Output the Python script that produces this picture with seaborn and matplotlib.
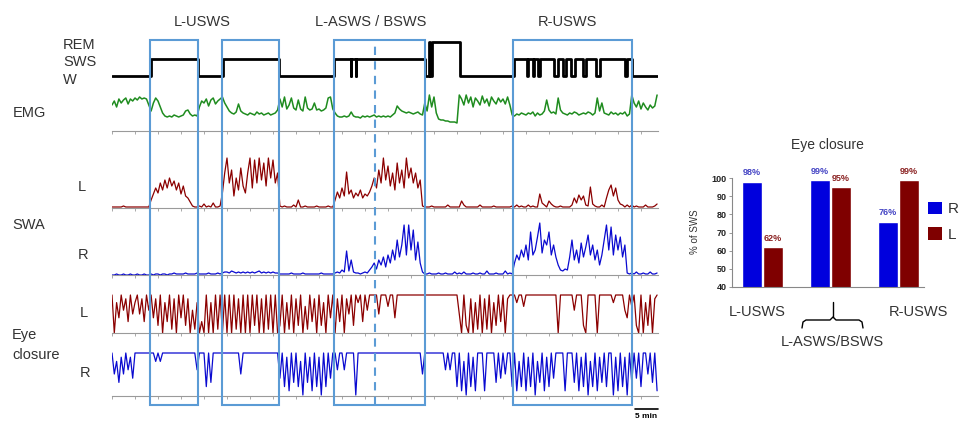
import numpy as np
import pandas as pd
import matplotlib
matplotlib.use("Agg")
import matplotlib.pyplot as plt
from matplotlib.patches import Rectangle, Patch
import seaborn as sns

# ---------------- data ----------------
# hypnogram: state change times (min) and states (0=W, 1=SWS, 2=REM)
hyp_t = [0, 8.5, 18.7, 24.1, 36.3, 48.3, 51.9, 52.05, 53.0, 53.15, 68.0, 68.9, 69.05, 69.5, 75.7,
         87.4, 90.2, 90.5, 91.5, 91.8, 92.7, 93.0, 96.1, 97.0, 98.0, 98.7, 99.8, 100.7,
         102.4, 103.0, 105.2, 106.1, 111.5, 112.0, 113.0, 118.7]
hyp_s = [0, 1, 0, 1, 0, 1, 0, 1, 0, 1, 0, 2, 0, 2, 0,
         1, 0, 1, 0, 1, 0, 1, 0, 1, 0, 1, 0, 1,
         0, 1, 0, 1, 0, 1, 0, 0]

# traces sampled every 0.5 min
emg = [20, 24, 18, 26, 22, 25, 27, 21, 26, 24,
       27, 25, 28, 26, 27, 26, 20, 14, 22, 27,
       24, 18, 12, 9, 8, 9, 8, 10, 9, 8,
       9, 10, 14, 15, 11, 9, 10, 9, 18, 24,
       22, 26, 19, 25, 27, 21, 24, 26, 28, 22,
       18, 14, 12, 11, 13, 21, 14, 12, 11, 10,
       12, 11, 10, 13, 11, 12, 10, 11, 12, 10,
       11, 12, 15, 26, 18, 28, 16, 20, 27, 17,
       15, 25, 16, 14, 28, 17, 15, 16, 22, 15,
       16, 14, 15, 17, 27, 28, 16, 12, 9, 8,
       8, 9, 8, 9, 13, 9, 8, 8, 7, 9,
       8, 9, 8, 9, 10, 8, 9, 8, 9, 8,
       9, 8, 10, 12, 19, 16, 14, 13, 12, 13,
       12, 11, 12, 13, 11, 10, 22, 14, 30, 18,
       28, 12, 6, 5, 5, 4, 4, 3, 3, 3,
       2, 30, 26, 20, 30, 22, 28, 18, 27, 24,
       20, 29, 22, 26, 19, 28, 24, 21, 27, 23,
       26, 21, 28, 20, 10, 9, 11, 10, 12, 11,
       10, 12, 11, 13, 9, 12, 10, 11, 14, 25,
       15, 12, 13, 11, 27, 15, 12, 11, 10, 12,
       11, 13, 12, 10, 11, 12, 11, 13, 12, 10,
       12, 27, 14, 22, 12, 11, 10, 13, 11, 12,
       10, 12, 11, 13, 9, 11, 30, 22, 18, 24,
       16, 22, 18, 15, 20, 17, 19, 30]

swa_l = [1, 1, 1, 1, 1, 2, 1, 1, 1, 1,
         1, 1, 1, 1, 1, 1, 1, 8, 14, 20,
         15, 25, 18, 28, 20, 30, 22, 27, 18, 25,
         14, 22, 12, 10, 6, 2, 1, 1, 2, 1,
         4, 1, 2, 1, 5, 1, 1, 2, 15, 35,
         50, 25, 38, 12, 30, 18, 40, 22, 15, 35,
         50, 20, 48, 25, 50, 28, 45, 22, 50, 30,
         48, 25, 35, 2, 1, 2, 1, 1, 1, 3,
         1, 8, 1, 1, 2, 1, 1, 1, 1, 2,
         1, 1, 1, 1, 2, 1, 1, 8, 16, 10,
         20, 12, 36, 14, 18, 10, 15, 12, 18, 10,
         14, 12, 16, 22, 30, 20, 38, 25, 50, 28,
         42, 22, 35, 18, 45, 25, 38, 20, 50, 30,
         40, 25, 35, 20, 28, 2, 1, 1, 1, 2,
         1, 1, 1, 1, 1, 1, 3, 1, 1, 1,
         1, 1, 7, 3, 1, 1, 1, 1, 1, 1,
         3, 1, 1, 1, 1, 1, 2, 1, 1, 1,
         1, 1, 1, 1, 2, 1, 3, 1, 2, 1,
         1, 3, 1, 2, 1, 1, 14, 5, 3, 1,
         7, 4, 2, 1, 1, 2, 1, 1, 1, 1,
         3, 10, 5, 13, 8, 12, 3, 2, 21, 4,
         2, 1, 1, 3, 1, 10, 18, 23, 12, 20,
         8, 4, 3, 1, 3, 1, 3, 1, 2, 1,
         1, 1, 3, 1, 1, 1, 2, 4]

swa_r = [0, 0, 1, 0, 0, 1, 0, 0, 1, 0,
         0, 1, 0, 0, 1, 0, 0, 1, 0, 1,
         1, 0, 1, 1, 0, 1, 1, 2, 1, 1,
         1, 1, 2, 1, 1, 1, 1, 2, 1, 1,
         1, 1, 2, 1, 1, 1, 2, 1, 2, 3,
         3, 2, 4, 3, 2, 3, 2, 3, 2, 3,
         2, 3, 2, 3, 4, 2, 3, 2, 3, 2,
         3, 2, 2, 1, 1, 1, 1, 1, 2, 1,
         1, 1, 1, 2, 1, 1, 1, 1, 1, 1,
         1, 2, 1, 1, 1, 1, 1, 2, 3, 2,
         5, 3, 24, 4, 15, 3, 2, 2, 1, 2,
         3, 2, 5, 8, 12, 6, 15, 10, 18, 8,
         20, 12, 25, 15, 35, 18, 30, 50, 20, 50,
         25, 45, 15, 33, 12, 3, 1, 1, 2, 1,
         1, 1, 2, 1, 1, 2, 1, 1, 1, 3,
         1, 2, 1, 3, 1, 1, 1, 2, 1, 1,
         2, 1, 1, 4, 1, 1, 1, 2, 1, 1,
         1, 4, 1, 2, 1, 12, 20, 15, 25, 18,
         30, 15, 43, 20, 25, 38, 52, 22, 35, 30,
         43, 20, 30, 18, 10, 5, 4, 6, 5, 18,
         35, 15, 25, 12, 32, 18, 28, 40, 20, 30,
         15, 25, 10, 20, 35, 50, 25, 48, 20, 40,
         25, 38, 18, 30, 2, 1, 2, 1, 3, 1,
         1, 2, 1, 1, 3, 1, 1, 2]

eye_l = [10, 0, 8, 4, 10, 6, 9, 3, 10, 5,
         8, 10, 5, 9, 3, 10, 6, 10, 4, 9,
         2, 10, 0, 8, 3, 10, 1, 9, 0, 10,
         4, 10, 2, 9, 0, 6, 1, 8, 0, 3,
         0, 10, 0, 8, 0, 10, 1, 10, 0, 10,
         0, 10, 0, 10, 1, 9, 0, 10, 0, 10,
         0, 10, 2, 10, 0, 9, 0, 10, 1, 10,
         0, 10, 0, 2, 10, 0, 8, 1, 10, 0,
         9, 2, 10, 0, 7, 1, 10, 3, 9, 0,
         10, 2, 8, 0, 10, 4, 10, 0, 9, 3,
         10, 0, 9, 5, 10, 2, 10, 8, 10, 3,
         10, 6, 10, 10, 10, 10, 5, 10, 10, 10,
         7, 10, 10, 4, 10, 10, 10, 10, 10, 10,
         10, 10, 10, 10, 10, 10, 10, 10, 10, 10,
         10, 10, 10, 10, 10, 10, 10, 10, 10, 10,
         10, 5, 0, 10, 2, 0, 9, 0, 8, 1,
         10, 0, 9, 1, 10, 0, 8, 2, 10, 3,
         10, 0, 9, 10, 10, 10, 8, 10, 10, 7,
         10, 10, 10, 10, 10, 10, 10, 10, 10, 10,
         10, 10, 10, 10, 0, 10, 10, 10, 10, 10,
         10, 6, 10, 10, 10, 2, 0, 10, 10, 10,
         10, 0, 10, 10, 10, 10, 10, 10, 8, 10,
         10, 10, 10, 6, 4, 10, 7, 10, 2, 0,
         10, 0, 8, 2, 10, 0, 9, 10]

eye_r = [10, 5, 8, 3, 9, 5, 10, 6, 9, 4,
         10, 10, 10, 10, 10, 10, 10, 10, 10, 8,
         10, 8, 10, 10, 10, 10, 10, 10, 10, 10,
         10, 10, 10, 10, 10, 10, 10, 6, 10, 10,
         10, 2, 10, 3, 10, 10, 10, 10, 10, 10,
         10, 10, 10, 10, 10, 10, 5, 10, 10, 10,
         10, 10, 10, 10, 10, 10, 10, 10, 10, 10,
         10, 10, 10, 4, 10, 2, 9, 1, 10, 3,
         10, 2, 8, 0, 10, 3, 9, 1, 10, 2,
         9, 0, 10, 2, 10, 4, 10, 10, 6, 10,
         10, 6, 10, 10, 10, 10, 0, 10, 10, 10,
         10, 10, 10, 10, 10, 10, 10, 10, 10, 10,
         10, 10, 10, 10, 10, 10, 10, 10, 10, 10,
         10, 10, 10, 10, 10, 5, 10, 10, 10, 10,
         10, 10, 10, 10, 10, 6, 10, 6, 10, 10,
         2, 10, 1, 8, 0, 10, 2, 9, 1, 10,
         10, 10, 1, 10, 10, 10, 10, 3, 10, 4,
         10, 5, 10, 10, 2, 10, 1, 8, 2, 10,
         1, 9, 2, 10, 0, 8, 3, 10, 1, 9,
         2, 10, 4, 10, 10, 10, 10, 1, 10, 10,
         10, 3, 10, 1, 9, 2, 10, 0, 8, 2,
         10, 1, 9, 3, 10, 2, 10, 10, 0, 9,
         1, 10, 2, 9, 0, 10, 3, 10, 4, 10,
         2, 10, 10, 5, 10, 3, 10, 1]

# episode boxes (min)
episodes = [(8.3, 18.7), (23.9, 36.3), (48.3, 68.0), (87.2, 113.0)]
split_t = 57.2
episode_titles = ["L-USWS", "L-ASWS / BSWS", "R-USWS"]

# bar chart
bar_groups = ["L-USWS", "L-ASWS/BSWS", "R-USWS"]
eye_R = [98, 99, 76]
eye_L = [62, 95, 99]

STEP = 0.5
T_END = 118.7

# ---------------- styling ----------------
sns.set_theme(style="white")
plt.rcParams['font.family'] = ['Liberation Sans', 'DejaVu Sans']

W, H = 963, 424
fig = plt.figure(figsize=(W / 100, H / 100), dpi=100)


def pbox(l, t, r, b):
    return [l / W, 1 - b / H, (r - l) / W, (b - t) / H]


X0, X1 = 112, 658
RED = "#8b0000"
BLUE = "#0a0ad0"
GREEN = "#1f8c1f"
BOXC = "#5b9bd5"
GRAY = "#9a9a9a"
TXT = "#333333"


def trace_axes(top, bottom, ylim, spine=True):
    ax = fig.add_axes(pbox(X0, top, X1, bottom))
    ax.set_facecolor("none")
    ax.set_xlim(0, T_END)
    ax.set_ylim(*ylim)
    for s in ["top", "right", "left"]:
        ax.spines[s].set_visible(False)
    ax.set_yticks([])
    if spine:
        ax.spines["bottom"].set_color(GRAY)
        ax.spines["bottom"].set_linewidth(0.8)
        ax.set_xticks(np.arange(0, T_END, 5))
        ax.tick_params(axis="x", bottom=True, length=2, width=0.6, color=GRAY,
                       labelbottom=False, direction="out")
    else:
        ax.spines["bottom"].set_visible(False)
        ax.set_xticks([])
    return ax


# hypnogram
ax_h = trace_axes(30, 86, (-10 / 17, 46 / 17), spine=False)
sns.lineplot(x=hyp_t, y=hyp_s, ax=ax_h, color="black", lw=2.0,
             drawstyle="steps-post", estimator=None)
ax_h.set(xlabel="", ylabel="")


def draw_trace(ax, vals, color, lw=0.9):
    t = np.arange(len(vals)) * STEP
    sns.lineplot(x=t, y=vals, ax=ax, color=color, lw=lw, estimator=None)
    ax.set(xlabel="", ylabel="")


ax_emg = trace_axes(85, 131, (-6, 40))
draw_trace(ax_emg, emg, GREEN, 1.1)

ax_sl = trace_axes(145, 208, (0, 63))
draw_trace(ax_sl, swa_l, RED)

ax_sr = trace_axes(215, 275, (0, 60))
draw_trace(ax_sr, swa_r, BLUE)

ax_el = trace_axes(290, 333, (0, 43 / 3.8))
draw_trace(ax_el, eye_l, RED)

ax_er = trace_axes(348, 396, (-1 / 4.2, 47 / 4.2))
draw_trace(ax_er, eye_r, BLUE)

# scale bar (5 min)
ax_er.plot([T_END - 5, T_END], [-3.4, -3.4], color="black", lw=1.2, clip_on=False)
ax_er.text(T_END - 2.5, -5.0, "5 min", ha="center", va="center", fontsize=6,
           fontweight="bold", color="black", clip_on=False)

# overlay boxes
ax_o = fig.add_axes(pbox(X0, 40, X1, 405))
ax_o.set_xlim(0, T_END)
ax_o.set_ylim(0, 1)
ax_o.axis("off")
ax_o.set_facecolor("none")
for (a, b) in episodes:
    ax_o.add_patch(Rectangle((a, 0), b - a, 1, fill=False, ec=BOXC, lw=1.5,
                             clip_on=False))
ax_o.plot([split_t, split_t], [0, 1], color=BOXC, lw=1.5, ls=(0, (4, 3)),
          clip_on=False)

# titles over episodes
title_x = [19.6, 56.3, 99.1]
for x, s in zip(title_x, episode_titles):
    ax_o.text(x, 1.0 + 18 / 365, s, ha="center", va="center", fontsize=10.5,
              color=TXT, clip_on=False)


# left labels (pixel coords)
def ptext(x, y, s, **kw):
    fig.text(x / W, 1 - y / H, s, **kw)


for s, y in [("REM", 45), ("SWS", 62), ("W", 80)]:
    ptext(63, y, s, ha="left", va="center", fontsize=10.5, color=TXT)
ptext(13, 113, "EMG", ha="left", va="center", fontsize=10.5, color=TXT)
ptext(78, 187, "L", ha="left", va="center", fontsize=10.5, color=TXT)
ptext(12, 225, "SWA", ha="left", va="center", fontsize=10.5, color=TXT)
ptext(78, 255, "R", ha="left", va="center", fontsize=10.5, color=TXT)
ptext(80, 313, "L", ha="left", va="center", fontsize=10.5, color=TXT)
ptext(12, 335, "Eye", ha="left", va="center", fontsize=10.5, color=TXT)
ptext(12, 355, "closure", ha="left", va="center", fontsize=10.5, color=TXT)
ptext(80, 373, "R", ha="left", va="center", fontsize=10.5, color=TXT)

# ---------------- bar chart ----------------
df = pd.DataFrame({
    "group": bar_groups * 2,
    "eye": ["R"] * 3 + ["L"] * 3,
    "value": eye_R + eye_L,
})
BAR_BLUE = "#0000dd"
BAR_RED = "#7f0000"
ax_b = fig.add_axes(pbox(732, 178, 924, 287))
sns.barplot(data=df, x="group", y="value", hue="eye", hue_order=["R", "L"],
            order=bar_groups, palette={"R": BAR_BLUE, "L": BAR_RED},
            saturation=1, width=0.62, gap=0.04, ax=ax_b, legend=False)
ax_b.set_xlim(-0.45, 2.375)
ax_b.set_ylim(40, 100)
ax_b.set_yticks(range(40, 101, 10))
ax_b.set_xticks([])
ax_b.set(xlabel="", ylabel="")
for s in ["top", "right"]:
    ax_b.spines[s].set_visible(False)
for s in ["left", "bottom"]:
    ax_b.spines[s].set_color("#888888")
    ax_b.spines[s].set_linewidth(0.8)
ax_b.tick_params(axis="y", left=True, length=2, width=0.6, color="#888888",
                 labelsize=6.5, pad=2)
for lab in ax_b.get_yticklabels():
    lab.set_fontweight("bold")
    lab.set_color("#222222")

lab_cols = ["#4444c4", "#8b2323"]
for cont, vals, c in zip(ax_b.containers, [eye_R, eye_L], lab_cols):
    ax_b.bar_label(cont, labels=[f"{v}%" for v in vals], padding=3,
                   fontsize=6.5, fontweight="bold", color=c)

ptext(827, 145, "Eye closure", ha="center", va="center", fontsize=10, color=TXT)
fig.text(695 / W, 1 - 232 / H, "% of SWS", rotation=90, ha="center", va="center",
         fontsize=7, color=TXT)
ptext(757, 312, bar_groups[0], ha="center", va="center", fontsize=10.5, color=TXT)
ptext(918, 312, bar_groups[2], ha="center", va="center", fontsize=10.5, color=TXT)
ptext(832, 342, bar_groups[1], ha="center", va="center", fontsize=10.5, color=TXT)

# brace under middle group
ax_a = fig.add_axes([0, 0, 1, 1])
ax_a.set_xlim(0, W)
ax_a.set_ylim(H, 0)
ax_a.axis("off")
ax_a.set_facecolor("none")
ax_a.plot([802, 803, 806, 830, 833, 836, 859, 862, 863],
          [328, 322, 320, 320, 317, 320, 320, 322, 328], color="black", lw=1.0)
ax_a.plot([833, 833], [317, 302], color="black", lw=1.0)

# legend
handles = [Patch(facecolor=BAR_BLUE, edgecolor="none"),
           Patch(facecolor=BAR_RED, edgecolor="none")]
fig.legend(handles, ["R", "L"], loc="upper left",
           bbox_to_anchor=(914 / W, 1 - 188 / H), frameon=False, fontsize=11,
           handlelength=0.9, handleheight=0.9, handletextpad=0.4,
           labelspacing=0.7, labelcolor=TXT)

fig.savefig("out.png", dpi=100)
